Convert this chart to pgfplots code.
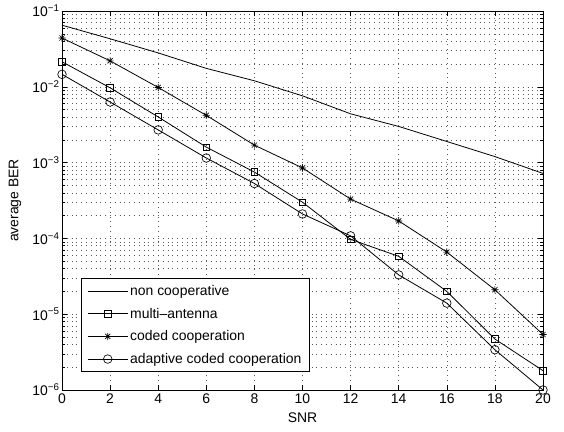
\documentclass[border=0pt]{standalone}
\usepackage{fontspec}
\setmainfont{Liberation Sans}
\usepackage{pgfplots}
\pgfplotsset{compat=1.18}
\pgfdeclareplotmark{star8}{%
  \pgfpathmoveto{\pgfqpoint{-\pgfplotmarksize}{0pt}}\pgfpathlineto{\pgfqpoint{\pgfplotmarksize}{0pt}}%
  \pgfpathmoveto{\pgfqpoint{0pt}{-\pgfplotmarksize}}\pgfpathlineto{\pgfqpoint{0pt}{\pgfplotmarksize}}%
  \pgfpathmoveto{\pgfqpoint{-0.707\pgfplotmarksize}{-0.707\pgfplotmarksize}}\pgfpathlineto{\pgfqpoint{0.707\pgfplotmarksize}{0.707\pgfplotmarksize}}%
  \pgfpathmoveto{\pgfqpoint{-0.707\pgfplotmarksize}{0.707\pgfplotmarksize}}\pgfpathlineto{\pgfqpoint{0.707\pgfplotmarksize}{-0.707\pgfplotmarksize}}%
  \pgfusepathqstroke}
\begin{document}
\begin{tikzpicture}
\begin{axis}[
  name=ax,
  scale only axis, width=481bp, height=379bp,
  ymode=log, log basis y=10,
  xmin=0, xmax=20, ymin=1e-6, ymax=1e-1,
  xtick={0,2,...,20},
  ytick={1e-6,1e-5,1e-4,1e-3,1e-2,1e-1},
  yticklabels={10\textsuperscript{−6},10\textsuperscript{−5},10\textsuperscript{−4},10\textsuperscript{−3},10\textsuperscript{−2},10\textsuperscript{−1}},
  minor ytick={2e-6,3e-6,4e-6,5e-6,6e-6,7e-6,8e-6,9e-6,
               2e-5,3e-5,4e-5,5e-5,6e-5,7e-5,8e-5,9e-5,
               2e-4,3e-4,4e-4,5e-4,6e-4,7e-4,8e-4,9e-4,
               2e-3,3e-3,4e-3,5e-3,6e-3,7e-3,8e-3,9e-3,
               2e-2,3e-2,4e-2,5e-2,6e-2,7e-2,8e-2,9e-2},
  /pgf/number format/assume math mode=true,
  grid=both,
  major grid style={black!65, line width=0.5pt, dash pattern=on 0.6bp off 4.2bp},
  minor grid style={black!65, line width=0.5pt, dash pattern=on 0.6bp off 4.2bp},
  tick align=inside, tick pos=both,
  major tick length=5bp, minor tick length=3bp,
  axis line style={line width=0.7pt},
  every tick/.style={black, line width=0.5pt},
  tick label style={font=\fontsize{14}{16}\selectfont},
  yticklabel style={xshift=1bp},
  label style={font=\fontsize{14}{16}\selectfont},
  xlabel={SNR}, ylabel={average BER},
  xlabel style={at={(axis description cs:0.5,-0.0739)}, anchor=center},
  ylabel style={at={(axis description cs:-0.0977,0.5)}, anchor=center},
  legend cell align=left,
  legend style={at={(0.0395,0.047)}, anchor=south west, draw=black, line width=0.7pt,
    font=\fontsize{14}{16}\selectfont, row sep=7bp, inner xsep=6bp, inner ysep=5bp},
  legend image code/.code={\draw[mark repeat=2,mark phase=2,#1] plot coordinates {(0bp,0bp)(20bp,0bp)(40bp,0bp)};},
  every axis plot/.append style={black, line width=0.8pt, mark options={solid, line width=0.65pt, fill=white}},
]
\addplot[mark=none] coordinates {
(0,0.065) (2,0.043) (4,0.028) (6,0.0175) (8,0.012) (10,0.0076) (12,0.0044) (14,0.0030) (16,0.0019) (18,0.0012) (20,0.00072)};
\addlegendentry{non cooperative}
\addplot[mark=square, mark size=3.3bp] coordinates {
(0,0.0214) (2,0.0097) (4,0.0040) (6,0.0016) (8,0.00075) (10,0.00030) (12,9.7e-5) (14,5.8e-5) (16,2.0e-5) (18,4.7e-6) (20,1.8e-6)};
\addlegendentry{multi--antenna}
\addplot[mark=star8, mark size=3.6bp] coordinates {
(0,0.044) (2,0.022) (4,0.0098) (6,0.0042) (8,0.0017) (10,0.00085) (12,0.00033) (14,0.00017) (16,6.6e-5) (18,2.1e-5) (20,5.4e-6)};
\addlegendentry{coded cooperation}
\addplot[mark=o, mark size=4.3bp] coordinates {
(0,0.0146) (2,0.0063) (4,0.0027) (6,0.00115) (8,0.00053) (10,0.00021) (12,1.08e-4) (14,3.3e-5) (16,1.4e-5) (18,3.4e-6) (20,1.0e-6)};
\addlegendentry{adaptive coded cooperation}
\end{axis}
\path ([xshift=-62bp,yshift=-42bp]ax.south west) rectangle ([xshift=21bp,yshift=11bp]ax.north east);
\end{tikzpicture}
\end{document}
